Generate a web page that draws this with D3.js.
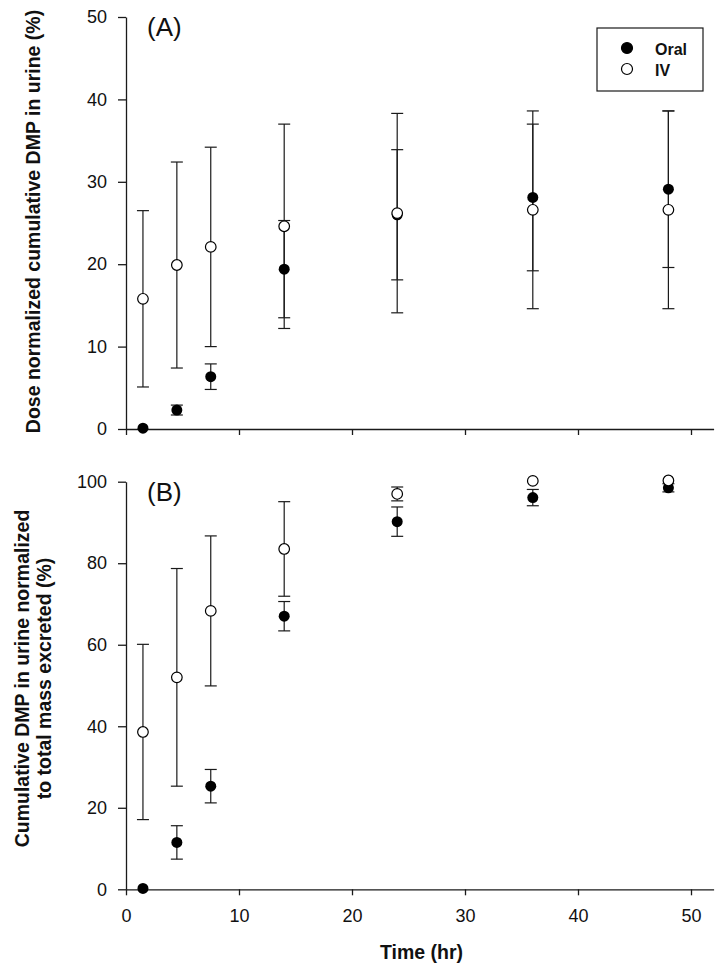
<!DOCTYPE html>
<html>
<head>
<meta charset="utf-8">
<script src="https://cdn.jsdelivr.net/npm/d3@7"></script>
<style>
body { margin: 0; background: #fff; }
text { font-family: "Liberation Sans", Arial, sans-serif; fill: #111; }
</style>
</head>
<body>
<svg width="725" height="979"></svg>
<script>
// sampling times (hr)
var times = [1.5, 4.5, 7.5, 14, 24, 36, 48]

// panel A: dose normalized cumulative DMP (%)
var oralA = [0.1, 2.3, 6.35, 19.4, 26.0, 28.1, 29.1]
var oralAErr = [0, 0.6, 1.55, 5.9, 7.9, 8.9, 9.5]
var ivA = [15.8, 19.9, 22.1, 24.6, 26.2, 26.6, 26.6]
var ivAErr = [10.7, 12.5, 12.1, 12.4, 12.1, 12.0, 12.0]

// panel B: normalized to total mass excreted (%)
var oralB = [0.2, 11.5, 25.3, 67.0, 90.2, 96.1, 98.5]
var oralBErr = [0, 4.1, 4.1, 3.6, 3.6, 2.0, 1.0]
var ivB = [38.6, 52.0, 68.3, 83.5, 97.0, 100.2, 100.3]
var ivBErr = [21.5, 26.7, 18.4, 11.6, 1.7, 0, 0]

var xTicks = [0, 10, 20, 30, 40, 50]
var yTicksA = [0, 10, 20, 30, 40, 50]
var yTicksB = [0, 20, 40, 60, 80, 100]

var svg = d3.select("svg")
var ink = "#1a1a1a"

var xs = d3.scaleLinear().domain([0, 52]).range([126, 713.6])

function panel(opt) {
  var ys = d3.scaleLinear().domain(opt.ydom).range(opt.yrange)
  var g = svg.append("g")

  // axes
  var xa = g.append("g")
    .attr("transform", "translate(0," + opt.yrange[0] + ")")
    .call(d3.axisBottom(xs).tickValues(xTicks).tickSize(6).tickSizeOuter(0).tickPadding(14)
      .tickFormat(opt.xlabels ? d3.format("d") : ""))
  var ya = g.append("g")
    .attr("transform", "translate(126,0)")
    .call(d3.axisLeft(ys).tickValues(opt.yticks).tickSize(8).tickSizeOuter(0).tickPadding(11))
  g.selectAll(".domain, .tick line").attr("stroke", ink).attr("stroke-width", 1.3)
  g.selectAll(".tick text").style("font-size", "18px").attr("fill", "#111")

  // error bars
  var series = [
    {v: opt.oral, e: opt.oralErr},
    {v: opt.iv, e: opt.ivErr}
  ]
  series.forEach(function(s) {
    var bars = g.append("g").selectAll("g").data(times.map(function(t, i) {
      return {t: t, v: s.v[i], e: s.e[i]}
    }).filter(function(d) { return d.e > 0 })).enter().append("g")
      .attr("stroke", ink).attr("stroke-width", 1.2)
    bars.append("line")
      .attr("x1", function(d) { return xs(d.t) }).attr("x2", function(d) { return xs(d.t) })
      .attr("y1", function(d) { return ys(d.v + d.e) }).attr("y2", function(d) { return ys(d.v - d.e) })
    bars.append("line")
      .attr("x1", function(d) { return xs(d.t) - 6 }).attr("x2", function(d) { return xs(d.t) + 6 })
      .attr("y1", function(d) { return ys(d.v + d.e) }).attr("y2", function(d) { return ys(d.v + d.e) })
    bars.append("line")
      .attr("x1", function(d) { return xs(d.t) - 6 }).attr("x2", function(d) { return xs(d.t) + 6 })
      .attr("y1", function(d) { return ys(d.v - d.e) }).attr("y2", function(d) { return ys(d.v - d.e) })
  })

  // symbols
  g.append("g").selectAll("circle").data(opt.oral).enter().append("circle")
    .attr("cx", function(d, i) { return xs(times[i]) })
    .attr("cy", function(d) { return ys(d) })
    .attr("r", 5.5).attr("fill", "#000")
  g.append("g").selectAll("circle").data(opt.iv).enter().append("circle")
    .attr("cx", function(d, i) { return xs(times[i]) })
    .attr("cy", function(d) { return ys(d) })
    .attr("r", 5.3).attr("fill", "#fff").attr("stroke", "#000").attr("stroke-width", 1.2)

  // panel letter
  g.append("text").attr("x", 147).attr("y", opt.yrange[1] + 19)
    .style("font-size", "26px").text(opt.letter)

  // y title
  var cy = opt.titleY
  var t = g.append("text").attr("transform", "translate(0," + cy + ") rotate(-90)")
    .attr("text-anchor", "middle").style("font-size", "19.5px").style("font-weight", "bold")
  opt.title.forEach(function(line, i) {
    t.append("tspan").attr("x", 0).attr("y", opt.titleX[i]).text(line)
  })
  return g
}

panel({
  ydom: [0, 50], yrange: [429, 17], yticks: yTicksA, xlabels: false,
  oral: oralA, oralErr: oralAErr, iv: ivA, ivErr: ivAErr, letter: "(A)",
  title: ["Dose normalized cumulative DMP in urine (%)"], titleX: [40], titleY: 221.5
})
panel({
  ydom: [0, 100], yrange: [889.3, 481.7], yticks: yTicksB, xlabels: true,
  oral: oralB, oralErr: oralBErr, iv: ivB, ivErr: ivBErr, letter: "(B)",
  title: ["Cumulative DMP in urine normalized", "to total mass excreted (%)"], titleX: [29, 51], titleY: 678.5
})

// x title
svg.append("text").attr("x", 421.5).attr("y", 959).attr("text-anchor", "middle")
  .style("font-size", "19.5px").style("font-weight", "bold").text("Time (hr)")

// legend
var leg = svg.append("g")
leg.append("rect").attr("x", 597).attr("y", 28).attr("width", 106).attr("height", 63)
  .attr("fill", "#fff").attr("stroke", ink).attr("stroke-width", 1.2)
var legItems = ["Oral", "IV"]
legItems.forEach(function(name, i) {
  leg.append("circle").attr("cx", 627).attr("cy", 48 + i * 21).attr("r", 5.5)
    .attr("fill", i == 0 ? "#000" : "#fff").attr("stroke", "#000").attr("stroke-width", 1.2)
  leg.append("text").attr("x", 655).attr("y", 55 + i * 21)
    .style("font-size", "16px").style("font-weight", "bold").text(name)
})
</script>
</body>
</html>
